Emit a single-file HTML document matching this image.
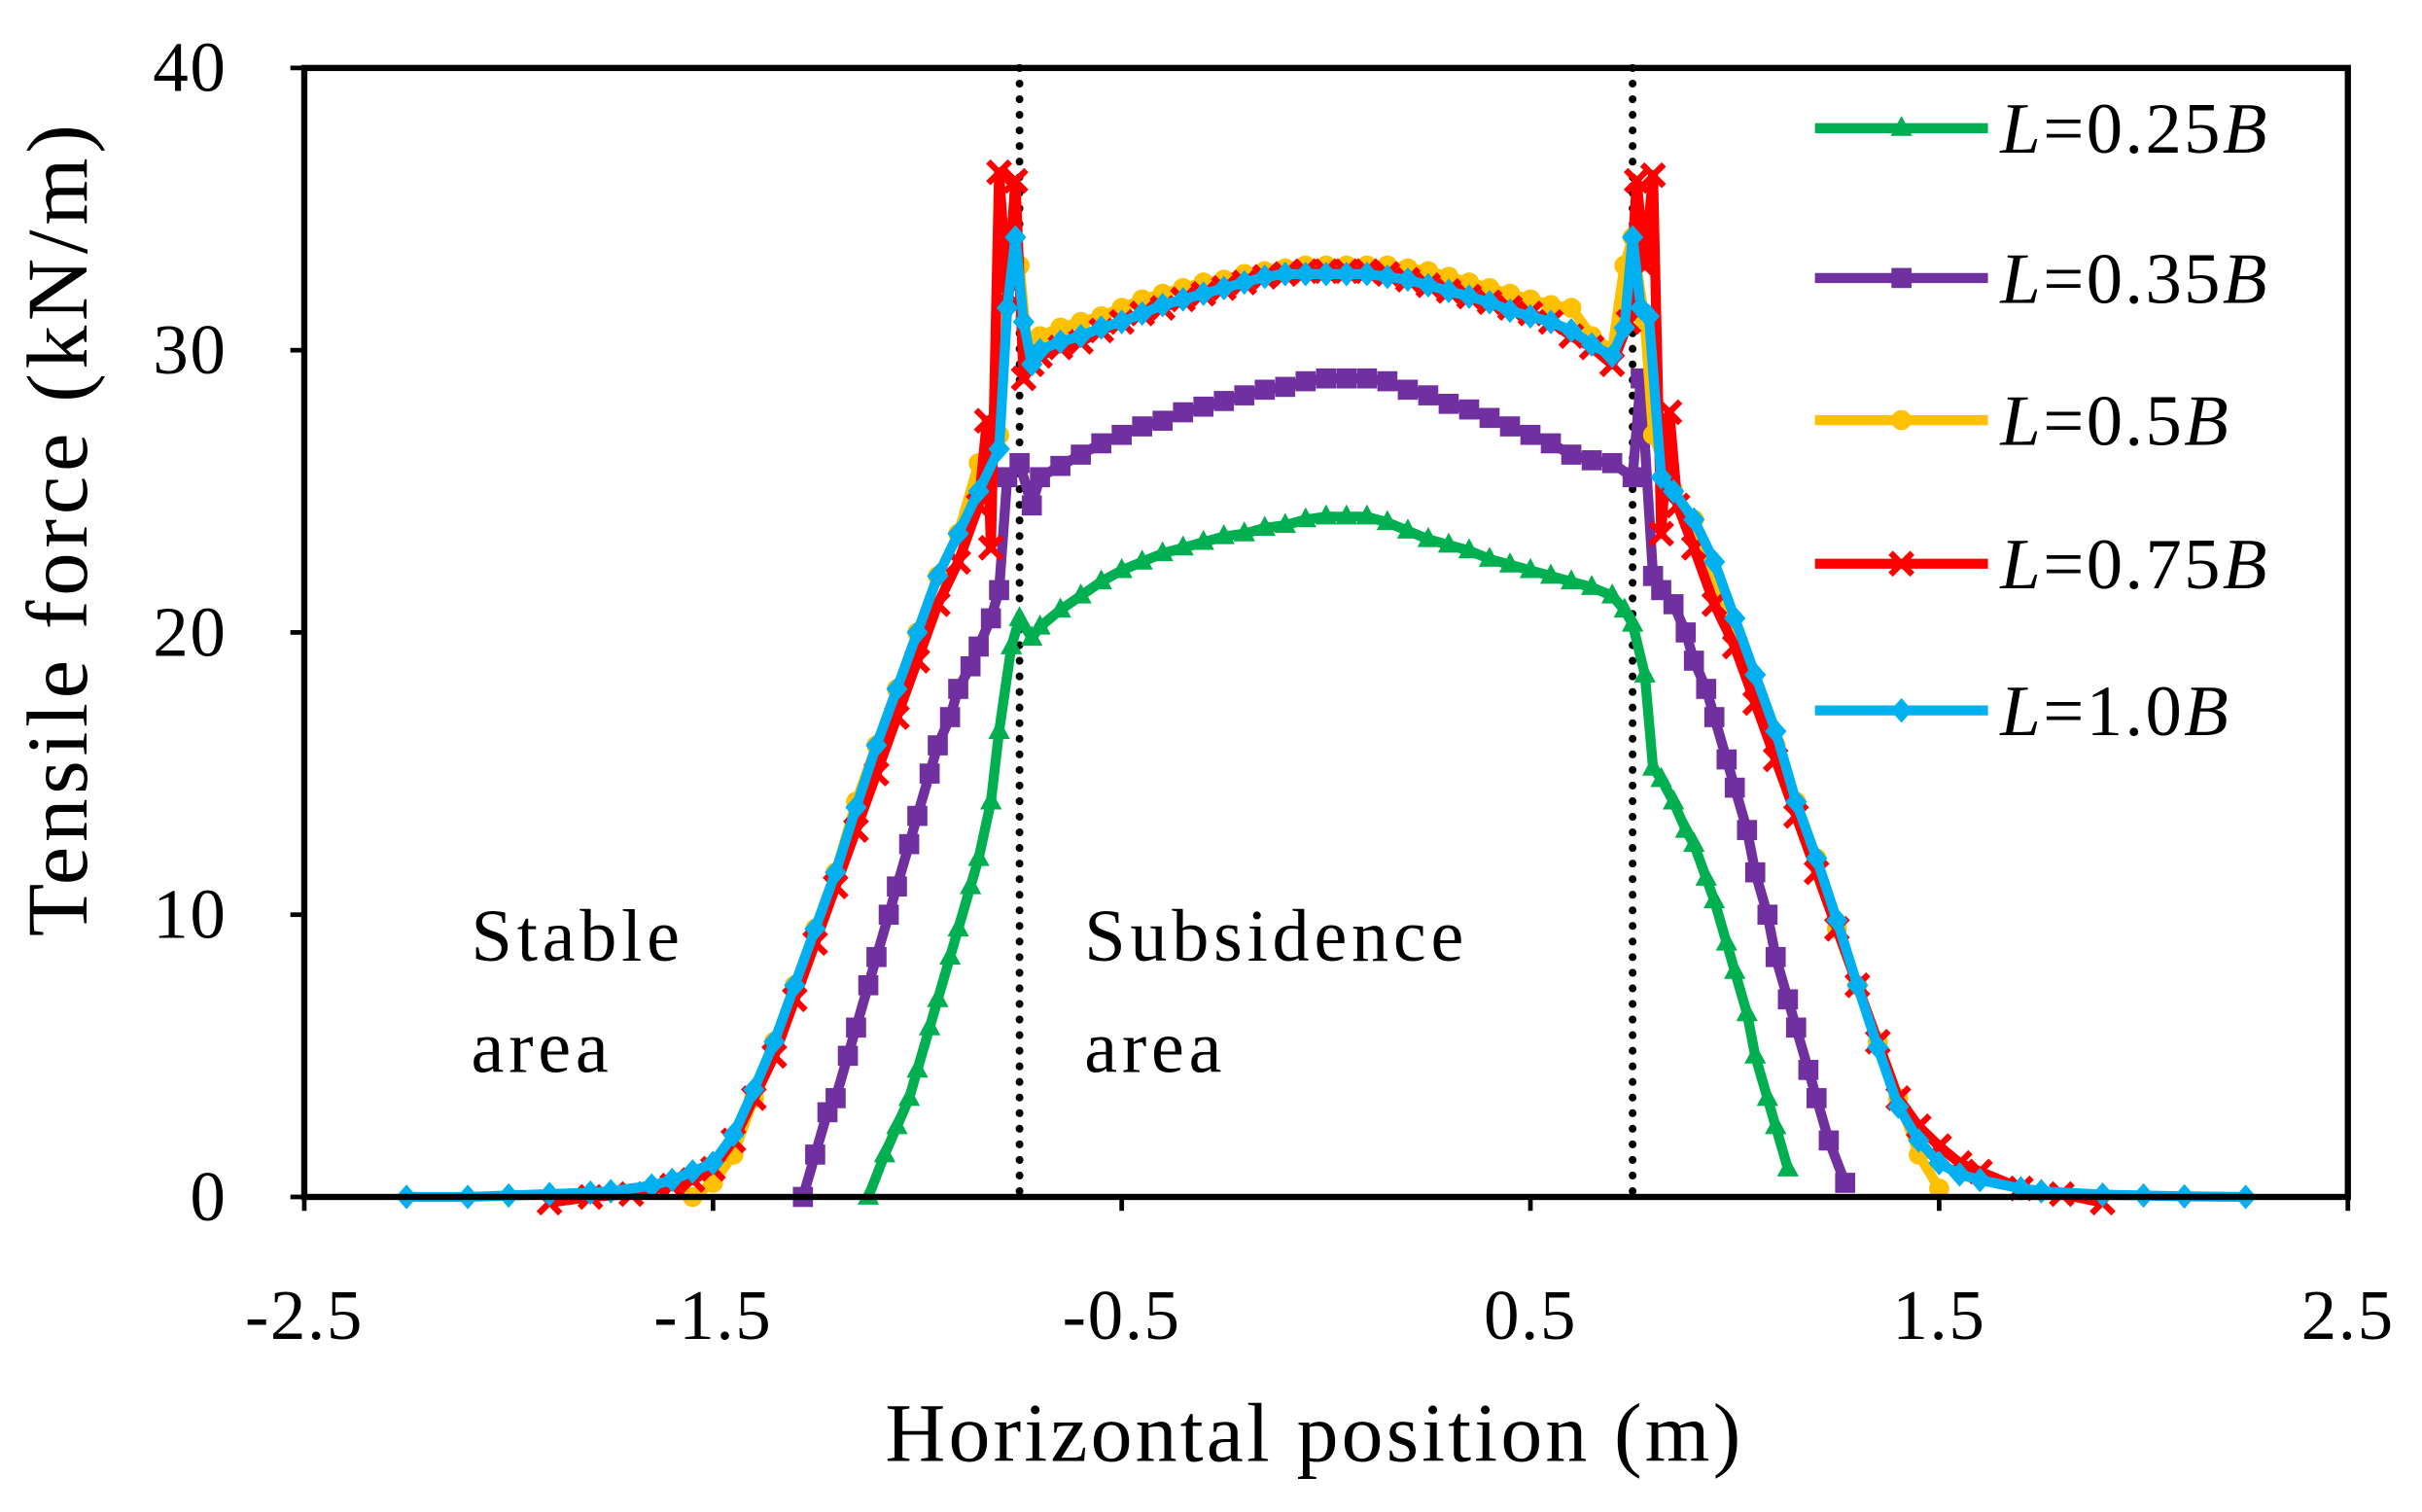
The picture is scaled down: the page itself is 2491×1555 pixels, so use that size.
<!DOCTYPE html>
<html><head><meta charset="utf-8"><style>
html,body{margin:0;padding:0;background:#fff;}
svg{display:block;}
text{font-family:"Liberation Serif",serif;fill:#000;}
</style></head><body>
<svg id="chart" width="2491" height="1555" viewBox="0 0 1568 979" preserveAspectRatio="none" xmlns="http://www.w3.org/2000/svg">
<g id="grid"></g>
<g id="series"></g>
<g id="axes"></g>
<g id="legend"></g>
<text x="305" y="622" font-size="48" letter-spacing="3">Stable</text>
<text x="305" y="694" font-size="48" letter-spacing="3">area</text>
<text x="702" y="622" font-size="48" letter-spacing="3">Subsidence</text>
<text x="702" y="694" font-size="48" letter-spacing="3">area</text>
<text x="851" y="946" font-size="54" letter-spacing="2" text-anchor="middle">Horizontal position (m)</text>
<text transform="translate(56,342) rotate(-90)" font-size="56" letter-spacing="3" text-anchor="middle">Tensile force (kN/m)</text>
</svg>
<script>
const xTicks = [-2.5,-1.5,-0.5,0.5,1.5,2.5];
const yTicks = [0,10,20,30,40];
const boundaries = [-0.75,0.75];
const seriesNames = ["L=0.25B","L=0.35B","L=0.5B","L=0.75B","L=1.0B"];
const x025 = [-1.12,-1.08,-1.05,-1.02,-1.0,-0.97,-0.95,-0.92,-0.9,-0.87,-0.85,-0.82,-0.8,-0.77,-0.75,-0.72,-0.7,-0.65,-0.6,-0.55,-0.5,-0.45,-0.4,-0.35,-0.3,-0.25,-0.2,-0.15,-0.1,-0.05,0,0.05,0.1,0.15,0.2,0.25,0.3,0.35,0.4,0.45,0.5,0.55,0.6,0.65,0.7,0.73,0.75,0.78,0.8,0.82,0.85,0.88,0.9,0.93,0.95,0.98,1.0,1.03,1.05,1.08,1.1,1.13];
const y025 = [0,1.5,2.5,3.5,4.5,6,7,8.5,9.5,11,12,14,16.5,19.5,20.5,19.8,20.2,20.8,21.3,21.8,22.2,22.5,22.8,23,23.2,23.4,23.5,23.7,23.8,24,24.1,24.1,24.1,23.9,23.6,23.3,23.1,22.9,22.6,22.4,22.2,22,21.8,21.6,21.3,20.8,20.3,18.5,15.2,14.8,14,13,12.5,11.3,10.5,9,8,6.5,5,3.5,2.5,1];
const x035 = [-1.28,-1.25,-1.22,-1.2,-1.17,-1.15,-1.12,-1.1,-1.07,-1.05,-1.02,-1.0,-0.97,-0.95,-0.92,-0.9,-0.87,-0.85,-0.82,-0.8,-0.78,-0.75,-0.72,-0.7,-0.65,-0.6,-0.55,-0.5,-0.45,-0.4,-0.35,-0.3,-0.25,-0.2,-0.15,-0.1,-0.05,0,0.05,0.1,0.15,0.2,0.25,0.3,0.35,0.4,0.45,0.5,0.55,0.6,0.65,0.7,0.75,0.77,0.8,0.82,0.85,0.88,0.9,0.93,0.95,0.98,1.0,1.03,1.05,1.08,1.1,1.13,1.15,1.18,1.2,1.23,1.27];
const y035 = [0,1.5,3,3.5,5,6,7.5,8.5,10,11,12.5,13.5,15,16,17,18,18.8,19.5,20.5,21.5,25.5,26,24.5,25.5,25.9,26.3,26.7,27,27.3,27.5,27.8,28,28.2,28.4,28.6,28.7,28.9,29,29,29,28.9,28.6,28.4,28.1,27.9,27.6,27.3,27,26.7,26.3,26.1,26,25.5,29,22,21.5,21,20,19,18,17,15.5,14.5,13,11.5,10,8.5,7,6,4.5,3.5,2,0.5];
const x05 = [-1.55,-1.5,-1.45,-1.4,-1.35,-1.3,-1.25,-1.2,-1.15,-1.1,-1.05,-1.0,-0.95,-0.9,-0.85,-0.8,-0.78,-0.75,-0.73,-0.7,-0.65,-0.6,-0.55,-0.5,-0.45,-0.4,-0.35,-0.3,-0.25,-0.2,-0.15,-0.1,-0.05,0,0.05,0.1,0.15,0.2,0.25,0.3,0.35,0.4,0.45,0.5,0.55,0.6,0.65,0.7,0.73,0.75,0.78,0.8,0.85,0.9,0.95,1.0,1.05,1.1,1.15,1.2,1.25,1.3,1.35,1.4,1.45,1.5];
const y05 = [0,0.5,1.5,3.5,5.5,7.5,9.5,11.5,14,16,18,20,22,23.5,26,27,33.5,33,30,30.5,30.8,31,31.2,31.5,31.8,32,32.2,32.4,32.5,32.7,32.8,32.9,33,33,33,33,33,32.9,32.8,32.6,32.4,32.2,32,31.8,31.6,31.5,30.5,30,33,34,31,27,25,24,22,20,18,16,14,12,9.5,7.5,5.5,3.5,1.5,0.3];
const x075 = [-1.9,-1.8,-1.7,-1.6,-1.55,-1.5,-1.45,-1.4,-1.35,-1.3,-1.25,-1.2,-1.15,-1.1,-1.05,-1.0,-0.95,-0.9,-0.85,-0.83,-0.82,-0.8,-0.78,-0.76,-0.74,-0.72,-0.7,-0.65,-0.6,-0.55,-0.5,-0.45,-0.4,-0.35,-0.3,-0.25,-0.2,-0.15,-0.1,-0.05,0,0.05,0.1,0.15,0.2,0.25,0.3,0.35,0.4,0.45,0.5,0.55,0.6,0.65,0.7,0.74,0.76,0.78,0.8,0.82,0.84,0.86,0.9,0.95,1.0,1.05,1.1,1.15,1.2,1.25,1.3,1.35,1.4,1.45,1.5,1.55,1.6,1.7,1.8,1.9];
const y075 = [-0.2,0,0.1,0.4,0.6,1,2,3.5,5,7,9,11,13,15,17,19,21,22.5,24.5,27.5,23,36.3,32,36,29,29.5,29.8,30.1,30.3,30.7,31,31.3,31.5,31.8,32,32.2,32.4,32.6,32.7,32.8,32.8,32.8,32.8,32.7,32.5,32.3,32.1,31.9,31.7,31.5,31.3,31,30.5,30.1,29.5,31,36,33,36.2,23.5,27.8,24.5,23,21,19.5,17.5,15.5,13.5,11.5,9.5,7.5,5.5,3.5,2.5,1.8,1.2,0.9,0.3,0.1,-0.2];
const x10 = [-2.25,-2.1,-2.0,-1.9,-1.8,-1.75,-1.65,-1.6,-1.55,-1.5,-1.45,-1.4,-1.35,-1.3,-1.25,-1.2,-1.15,-1.1,-1.05,-1.0,-0.95,-0.9,-0.85,-0.8,-0.78,-0.76,-0.74,-0.72,-0.7,-0.65,-0.6,-0.55,-0.5,-0.45,-0.4,-0.35,-0.3,-0.25,-0.2,-0.15,-0.1,-0.05,0,0.05,0.1,0.15,0.2,0.25,0.3,0.35,0.4,0.45,0.5,0.55,0.6,0.65,0.7,0.73,0.75,0.77,0.79,0.82,0.85,0.9,0.95,1.0,1.05,1.1,1.15,1.2,1.25,1.3,1.35,1.4,1.45,1.5,1.55,1.6,1.7,1.75,1.9,2.0,2.1,2.25];
const y10 = [0,0,0.05,0.1,0.15,0.2,0.4,0.6,0.9,1.2,2.2,3.8,5.5,7.5,9.5,11.5,13.8,16,18,20,22,23.5,25,26.5,31.5,34,31,29.5,30,30.3,30.5,30.8,31,31.3,31.6,31.8,32,32.2,32.4,32.6,32.7,32.7,32.7,32.7,32.7,32.6,32.5,32.3,32.1,31.9,31.7,31.4,31.2,31,30.7,30.2,29.8,30.8,34,31.5,31.2,25.5,25,24,22.5,20.5,18.5,16.5,14,12,9.8,7.5,5.3,3.2,2,1.2,0.8,0.6,0.3,0.2,0.08,0.05,0.02,0];
const seriesX = [x025,x035,x05,x075,x10];
const seriesY = [y025,y035,y05,y075,y10];
const colors = ["#00B050","#7030A0","#FFC000","#FF0000","#00B0F0"];
const markerTypes = ["triangle","square","circle","cross","diamond"];

const NS="http://www.w3.org/2000/svg";
const L=197,R=1520,T=44,B=775;
const xScale=v=>L+(v+2.5)/5*(R-L);
const yScale=v=>B-v/40*(B-T);
function mk(tag,attrs,parent){const e=document.createElementNS(NS,tag);for(const k in attrs)e.setAttribute(k,attrs[k]);parent.appendChild(e);return e;}
function marker(type,x,y,c,parent){
  let e;
  if(type==="triangle") e=mk("polygon",{points:`${x},${y-8} ${x-7},${y+5} ${x+7},${y+5}`,fill:c},parent);
  else if(type==="square") e=mk("rect",{x:x-6.5,y:y-6.5,width:13,height:13,fill:c},parent);
  else if(type==="circle") e=mk("circle",{cx:x,cy:y,r:6.5,fill:c},parent);
  else if(type==="diamond") e=mk("polygon",{points:`${x},${y-8} ${x+7},${y} ${x},${y+8} ${x-7},${y}`,fill:c},parent);
  else e=mk("path",{d:`M${x-7},${y-7}L${x+7},${y+7}M${x+7},${y-7}L${x-7},${y+7}`,stroke:c,"stroke-width":4},parent);
  
  
}
const grid=document.getElementById("grid");
boundaries.forEach(b=>{
  const l=mk("line",{x1:xScale(b),x2:xScale(b),y1:T,y2:B,stroke:"#000","stroke-width":5,"stroke-dasharray":"0.1 10","stroke-linecap":"round"},grid);
  
  
});
const sg=document.getElementById("series");
seriesX.forEach((xs,i)=>{
  const g=mk("g",{},sg);
  
  
  const pts=xs.map((x,j)=>xScale(x)+","+yScale(seriesY[i][j])).join(" ");
  const pl=mk("polyline",{points:pts,fill:"none",stroke:colors[i],"stroke-width":6.5,"stroke-linejoin":"round"},g);
  
  
  xs.forEach((x,j)=>marker(markerTypes[i],xScale(x),yScale(seriesY[i][j]),colors[i],g));
});
const ax=document.getElementById("axes");
const frame=mk("rect",{x:L,y:T,width:R-L,height:B-T,fill:"none",stroke:"#000","stroke-width":4},ax);


xTicks.forEach(t=>{
  const x=xScale(t);
  mk("line",{x1:x,x2:x,y1:B,y2:B+9,stroke:"#000","stroke-width":3},ax);
  const tx=mk("text",{x:x,y:B+92,"font-size":46,"letter-spacing":1,"text-anchor":"middle"},ax);
  tx.textContent=t;
  
  
});
yTicks.forEach(t=>{
  const y=yScale(t);
  mk("line",{x1:L-9,x2:L,y1:y,y2:y,stroke:"#000","stroke-width":3},ax);
  const tx=mk("text",{x:L-50,y:y+15,"font-size":46,"letter-spacing":1,"text-anchor":"end"},ax);
  tx.textContent=t;
  
  
});
const lg=document.getElementById("legend");
const legY=[83,180,272,365,460];
seriesNames.forEach((n,i)=>{
  const g=mk("g",{},lg);
  
  
  mk("line",{x1:1175,x2:1287,y1:legY[i],y2:legY[i],stroke:colors[i],"stroke-width":6.5},g);
  marker(markerTypes[i],1231,legY[i],colors[i],g);
  const m=n.match(/L=([\d.]+)B/);
  const tx=mk("text",{x:1295,y:legY[i]+16,"font-size":47,"letter-spacing":1.5},g);
  tx.innerHTML=`<tspan font-style="italic">L</tspan>=${m[1]}<tspan font-style="italic">B</tspan>`;
  
  
});
</script>
</body></html>
